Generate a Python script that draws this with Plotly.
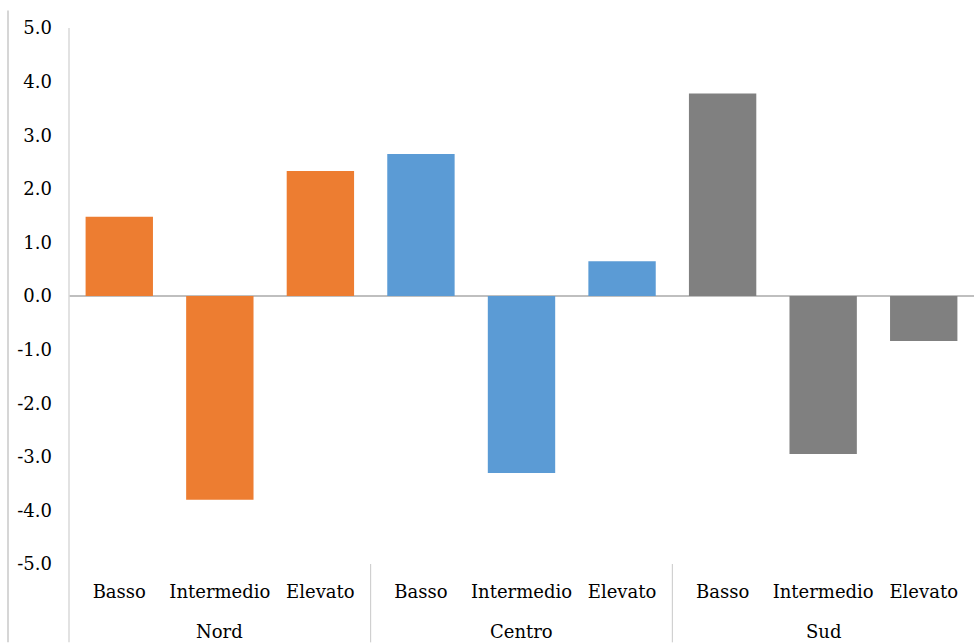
import plotly.graph_objects as go

# Data
regions = ["Nord", "Centro", "Sud"]
levels = ["Basso", "Intermedio", "Elevato"]
nord = [1.48, -3.8, 2.33]
centro = [2.65, -3.3, 0.65]
sud = [3.78, -2.95, -0.84]
region_colors = ["#ED7D31", "#5B9BD5", "#808080"]
y_ticks = [5, 4, 3, 2, 1, 0, -1, -2, -3, -4, -5]

series = [nord, centro, sud]
n_lev = len(levels)

fig = go.Figure()
for i, (reg, vals, col) in enumerate(zip(regions, series, region_colors)):
    xs = [i * n_lev + j for j in range(n_lev)]
    fig.add_trace(go.Bar(
        x=xs, y=vals, name=reg, width=0.67,
        marker=dict(color=col, line=dict(width=0)),
        showlegend=False,
    ))

font_family = "DejaVu Serif"
font_size = 18
plot_h = 643 - 27.5 - 78.5

# group labels and separators below the category labels
for i, reg in enumerate(regions):
    fig.add_annotation(
        x=i * n_lev + (n_lev - 1) / 2, xref="x",
        y=-(632 - 564.5) / plot_h, yref="paper",
        text=reg, showarrow=False, yanchor="middle",
        font=dict(family=font_family, size=font_size, color="#000000"),
    )
for i in range(1, len(regions)):
    fig.add_shape(type="line", xref="x", yref="paper",
                  x0=i * n_lev - 0.5, x1=i * n_lev - 0.5,
                  y0=0, y1=-78.5 / plot_h,
                  line=dict(color="#c8c8c8", width=1))

# vertical axis line extending into the label area
fig.add_shape(type="line", xref="paper", yref="paper",
              x0=0, x1=0, y0=1, y1=-78.5 / plot_h,
              line=dict(color="#d9d9d9", width=1.5))
# outer frame line on the left
fig.add_shape(type="line", xref="paper", yref="paper",
              x0=-61 / 905, x1=-61 / 905, y0=(564.5 - 10) / plot_h, y1=-78.5 / plot_h,
              line=dict(color="#c8c8c8", width=1.5))

fig.update_layout(
    width=975, height=643,
    margin=dict(l=69, r=1, t=27.5, b=78.5, autoexpand=False),
    plot_bgcolor="white", paper_bgcolor="white",
    bargap=0.33,
    font=dict(family=font_family, size=font_size, color="#000000"),
    xaxis=dict(
        range=[-0.5, len(regions) * n_lev - 0.5],
        tickvals=list(range(len(regions) * n_lev)),
        ticktext=levels * len(regions),
        showgrid=False, zeroline=False, showline=False,
        ticks="", ticklabelstandoff=15, tickangle=0, automargin=False,
        tickfont=dict(family=font_family, size=font_size),
    ),
    yaxis=dict(
        range=[-5, 5],
        tickvals=y_ticks,
        ticktext=[f"{v:.1f}" for v in y_ticks],
        showgrid=False, showline=False, automargin=False,
        zeroline=True, zerolinecolor="#bfbfbf", zerolinewidth=1.5,
        ticks="", ticklabelstandoff=16,
        tickfont=dict(family=font_family, size=font_size),
    ),
)

fig.write_html("out.html")
